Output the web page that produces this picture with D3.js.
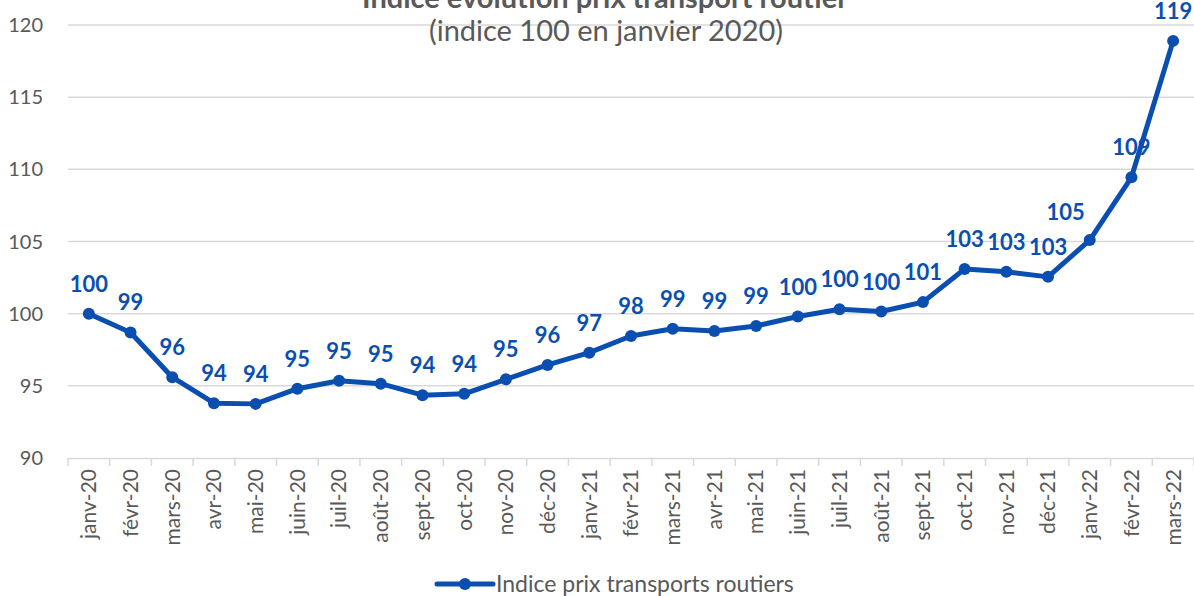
<!DOCTYPE html>
<html>
<head>
<meta charset="utf-8">
<script src="https://cdn.jsdelivr.net/npm/d3@7"></script>
<style>
  body { margin: 0; background: #fff; }
  svg { display: block; font-family: Lato, "Open Sans", sans-serif; }
</style>
</head>
<body>
<svg id="chart"></svg>
<script>
// Data
const months = ["janv-20", "févr-20", "mars-20", "avr-20", "mai-20", "juin-20", "juil-20", "août-20",
  "sept-20", "oct-20", "nov-20", "déc-20", "janv-21", "févr-21", "mars-21", "avr-21", "mai-21",
  "juin-21", "juil-21", "août-21", "sept-21", "oct-21", "nov-21", "déc-21", "janv-22", "févr-22", "mars-22"];
const indexValues = [100, 98.7, 95.6, 93.8, 93.75, 94.8, 95.35, 95.15, 94.35, 94.45, 95.45, 96.45, 97.3,
  98.45, 98.95, 98.8, 99.15, 99.8, 100.3, 100.15, 100.8, 103.1, 102.9, 102.55, 105.1, 109.45, 118.9];
const yTicks = [90, 95, 100, 105, 110, 115, 120];
const seriesName = "Indice prix transports routiers";

const width = 1194;
const height = 596;
const marginTop = 25;
const marginRight = 0;
const marginBottom = 138;
const marginLeft = 68;
const blue = "#0a4fb0";
const grey = "#595959";

const svg = d3.select("#chart")
    .attr("width", width)
    .attr("height", height)
    .attr("viewBox", [0, 0, width, height]);

// scales
const x = d3.scaleBand()
    .domain(months)
    .range([marginLeft, width - marginRight]);

const y = d3.scaleLinear()
    .domain([90, 120])
    .range([height - marginBottom, marginTop]);

// gridlines
svg.append("g")
    .selectAll("line")
    .data(yTicks.slice(1))
    .join("line")
      .attr("x1", marginLeft)
      .attr("x2", width - marginRight)
      .attr("y1", d => y(d))
      .attr("y2", d => y(d))
      .attr("stroke", "#d9d9d9")
      .attr("stroke-width", 1.5);

// y axis labels
svg.append("g")
    .selectAll("text")
    .data(yTicks)
    .join("text")
      .attr("x", 43)
      .attr("y", d => y(d))
      .attr("dy", "0.35em")
      .attr("text-anchor", "end")
      .attr("fill", grey)
      .attr("font-size", 20)
      .text(d => d);

// x axis
svg.append("g")
    .attr("transform", `translate(0,${y(90)})`)
    .call(d3.axisBottom(x).tickSize(0).tickSizeOuter(0))
    .call(g => g.select(".domain").attr("stroke", "#d9d9d9").attr("stroke-width", 1.5))
    .call(g => g.selectAll(".tick text")
        .attr("transform", "rotate(-90)")
        .attr("text-anchor", "end")
        .attr("x", -11)
        .attr("y", 0)
        .attr("dy", "0.35em")
        .attr("fill", grey)
        .attr("font-size", 21)
        .attr("font-family", "Lato, sans-serif"));

// category separators on the axis
svg.append("g")
    .selectAll("line")
    .data(months.concat([null]))
    .join("line")
      .attr("x1", (d, i) => marginLeft + i * x.step())
      .attr("x2", (d, i) => marginLeft + i * x.step())
      .attr("y1", y(90))
      .attr("y2", y(90) + 8)
      .attr("stroke", "#d9d9d9")
      .attr("stroke-width", 1.5);

// line
const cx = (d, i) => x(months[i]) + x.bandwidth() / 2;
svg.append("path")
    .datum(indexValues)
    .attr("fill", "none")
    .attr("stroke", blue)
    .attr("stroke-width", 5)
    .attr("stroke-linejoin", "round")
    .attr("d", d3.line().x(cx).y(d => y(d)));

svg.append("g")
    .attr("fill", blue)
    .selectAll("circle")
    .data(indexValues)
    .join("circle")
      .attr("cx", cx)
      .attr("cy", d => y(d))
      .attr("r", 6);

// data labels (janv-22 label was nudged left in the original)
svg.append("g")
    .selectAll("text")
    .data(indexValues)
    .join("text")
      .attr("x", (d, i) => cx(d, i) - (months[i] === "janv-22" ? 24 : 0))
      .attr("y", (d, i) => y(d) - (months[i] === "janv-22" ? 20 : 22))
      .attr("text-anchor", "middle")
      .attr("fill", blue)
      .attr("font-size", 22)
      .attr("font-weight", "bold")
      .text(d => Math.round(d));

// title
svg.append("text")
    .attr("x", 605)
    .attr("y", 8)
    .attr("text-anchor", "middle")
    .attr("fill", grey)
    .attr("font-size", 29)
    .attr("font-weight", "bold")
    .text("Indice évolution prix transport routier");

svg.append("text")
    .attr("x", 606)
    .attr("y", 41)
    .attr("text-anchor", "middle")
    .attr("fill", grey)
    .attr("font-size", 29)
    .text("(indice 100 en janvier 2020)");

// legend
const legend = svg.append("g").attr("transform", "translate(437,584)");
legend.append("line")
    .attr("x1", 0).attr("x2", 56)
    .attr("stroke", blue)
    .attr("stroke-width", 5)
    .attr("stroke-linecap", "round");
legend.append("circle")
    .attr("cx", 28).attr("r", 6)
    .attr("fill", blue);
legend.append("text")
    .attr("x", 59)
    .attr("dy", "0.35em")
    .attr("fill", grey)
    .attr("font-size", 23)
    .text(seriesName);
</script>
</body>
</html>
